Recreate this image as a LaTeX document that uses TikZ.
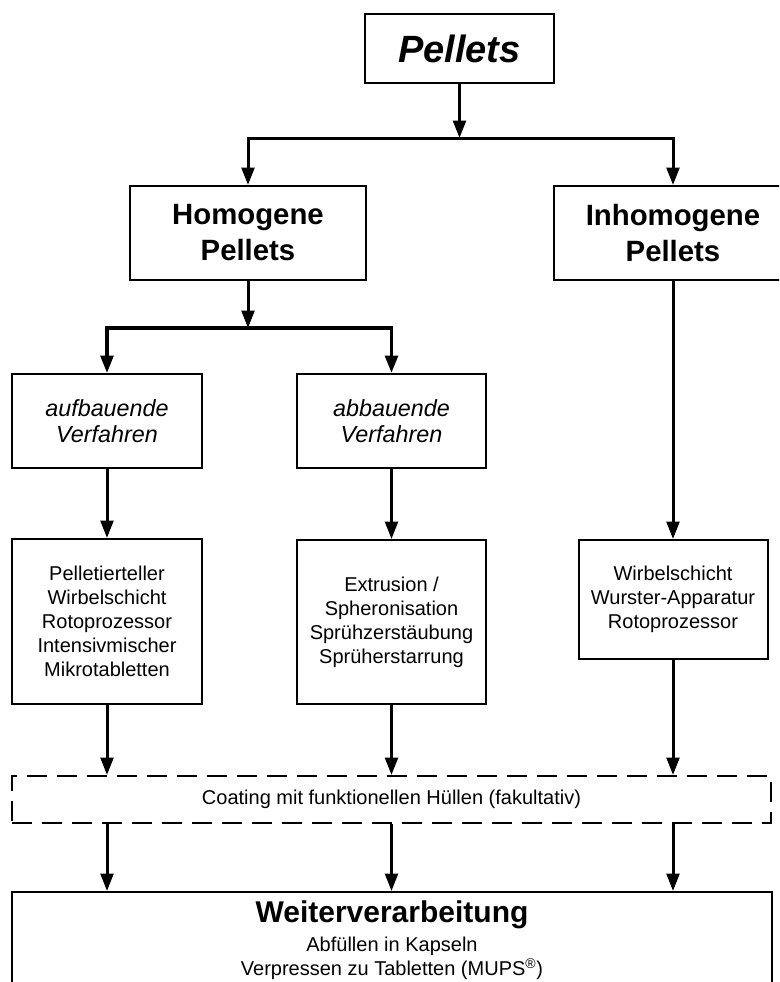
\documentclass[tikz,border=0pt]{standalone}
\usepackage{fontspec}
\setmainfont{Liberation Sans}
\usetikzlibrary{arrows.meta}
\tikzset{
  box/.style 2 args={draw,line width=1.5pt,inner sep=0pt,align=center,
    minimum width=#1*0.75pt,minimum height=#2*0.75pt},
  conn/.style={line width=2.25pt,line join=miter},
  arr/.style={conn,-{Triangle[length=13pt,width=9.5pt]}},
  procfont/.style={font=\fontsize{15pt}{18pt}\selectfont},
}
\begin{document}
\begin{tikzpicture}[x=0.75pt,y=-0.75pt]
\useasboundingbox (0,0) rectangle (779,982);
\clip (0,0) rectangle (779,982);
\fill[white] (0,0) rectangle (779,982);
% nodes
\node[box={189}{69},font=\fontsize{28.5pt}{30pt}\selectfont\bfseries\itshape] (pellets) at (459.5,48.5) {Pellets};
\node[box={236}{94},font=\fontsize{22pt}{27pt}\selectfont\bfseries] (homo) at (248,233) {Homogene\\Pellets};
\node[box={238}{94},font=\fontsize{22pt}{27pt}\selectfont\bfseries] (inhomo) at (673,233) {Inhomogene\\Pellets};
\node[box={190}{94},font=\fontsize{17.5pt}{20pt}\selectfont\itshape] (aufb) at (107,421) {aufbauende\\Verfahren};
\node[box={189}{94},font=\fontsize{17.5pt}{20pt}\selectfont\itshape] (abb) at (391.5,421) {abbauende\\Verfahren};
\node[box={190}{165},procfont] (pell) at (107,621.5) {Pelletierteller\\Wirbelschicht\\Rotoprozessor\\Intensivmischer\\Mikrotabletten};
\node[box={189}{164},procfont] (extr) at (391.5,622) {Extrusion /\\Spheronisation\\Sprühzerstäubung\\Sprüherstarrung};
\node[box={189}{119},procfont] (wirb) at (673,599.5) {Wirbelschicht\\Wurster-Apparatur\\Rotoprozessor};
\node[box={759}{47},dash pattern=on 15pt off 7.5pt,font=\fontsize{15pt}{18pt}\selectfont] (coat) at (391.5,799.5) {Coating mit funktionellen Hüllen (fakultativ)};
\node[box={760}{120}] (weiter) at (392,952) {};
\node[font=\fontsize{22.5pt}{26pt}\selectfont\bfseries,inner sep=0pt] (wtitle) at (392,915) {Weiterverarbeitung};
\node[font=\fontsize{15pt}{17pt}\selectfont,inner sep=0pt] (wline1) at (392,946) {Abfüllen in Kapseln};
\node[font=\fontsize{15pt}{17pt}\selectfont,inner sep=0pt] (wline2) at (392,969) {Verpressen zu Tabletten (MUPS\textsuperscript{®})};
% split points
\coordinate (s1) at (459.5,138);
\coordinate (s2) at (248,328);
% connectors
\draw[arr] (pellets.south) -- (s1);
\draw[arr] (s1) -| (homo.north);
\draw[arr] (s1) -| (inhomo.north);
\draw[arr] (homo.south) -- (s2);
\draw[arr,line width=2.6pt] (s2) -| (aufb.north);
\draw[arr,line width=2.6pt] (s2) -| (abb.north);
\draw[arr] (aufb.south) -- (pell.north);
\draw[arr] (abb.south) -- (extr.north);
\draw[arr] (inhomo.south) -- (wirb.north);
\draw[arr] (pell.south) -- (pell.south |- coat.north);
\draw[arr] (extr.south) -- (extr.south |- coat.north);
\draw[arr] (wirb.south) -- (wirb.south |- coat.north);
\draw[arr] (pell.south |- coat.south) -- (pell.south |- weiter.north);
\draw[arr] (extr.south |- coat.south) -- (extr.south |- weiter.north);
\draw[arr] (wirb.south |- coat.south) -- (wirb.south |- weiter.north);
\end{tikzpicture}
\end{document}
